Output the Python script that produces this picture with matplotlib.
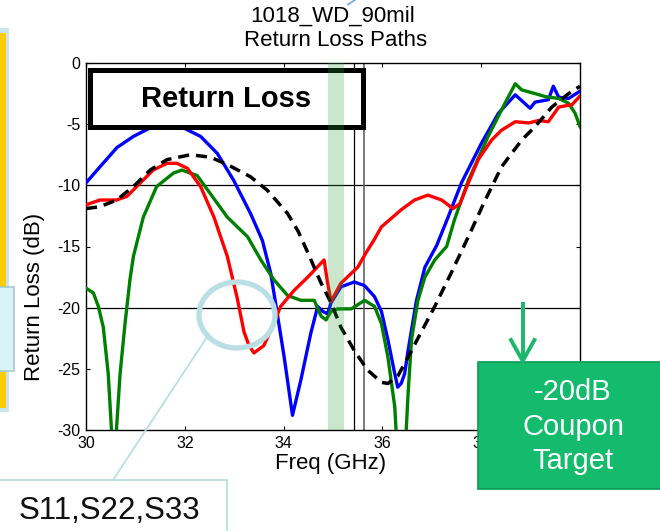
import matplotlib
matplotlib.use('Agg')
import matplotlib.pyplot as plt
from matplotlib.patches import Rectangle, Ellipse

plt.rcParams['font.family'] = ['Liberation Sans', 'DejaVu Sans']

# ---------------- data ----------------
blue_f = [30.0, 30.28, 30.63, 30.96, 31.3, 31.6, 31.97, 32.32, 32.66, 32.99, 33.33, 33.57,
          33.74, 33.88, 34.01, 34.18, 34.35, 34.55, 34.69, 34.79, 34.89, 34.96, 35.16, 35.43,
          35.64, 35.84, 35.98, 36.11, 36.25, 36.31, 36.38, 36.45, 36.52, 36.69, 36.86, 37.1,
          37.33, 37.6, 38.0, 38.35, 38.69, 38.99, 39.09, 39.36, 39.46, 39.57, 39.77, 40.0]
blue_rl = [-9.8, -8.5, -6.9, -6.0, -5.3, -4.9, -5.3, -6.0, -7.4, -9.6, -12.3, -14.5,
           -17.2, -20.7, -24.0, -28.8, -25.9, -22.1, -19.9, -20.3, -20.5, -19.6, -18.3, -17.9,
           -18.2, -19.1, -20.3, -22.6, -25.4, -26.5, -26.2, -25.4, -23.5, -19.4, -16.7, -14.9,
           -12.6, -9.8, -6.6, -4.1, -2.6, -3.7, -3.2, -3.0, -1.9, -2.8, -2.9, -2.3]

green_f = [30.0, 30.15, 30.25, 30.35, 30.45, 30.53, 30.6, 30.69, 30.79, 30.89, 30.96, 31.16,
           31.43, 31.77, 31.94, 32.25, 32.52, 32.86, 33.27, 33.54, 33.8, 34.08, 34.35, 34.62,
           34.76, 34.86, 34.96, 35.1, 35.37, 35.64, 35.84, 35.98, 36.11, 36.25, 36.29, 36.47,
           36.52, 36.59, 36.72, 36.86, 37.06, 37.3, 37.46, 37.74, 38.14, 38.48, 38.69, 38.82,
           39.09, 39.3, 39.57, 39.77, 39.9, 40.0]
green_rl = [-18.4, -18.8, -19.9, -21.6, -25.4, -31.0, -31.0, -25.4, -21.3, -17.7, -15.8, -12.6,
            -10.1, -9.0, -8.75, -9.2, -10.7, -12.6, -14.2, -16.1, -17.7, -19.0, -19.4, -19.4,
            -20.7, -21.0, -20.3, -20.1, -20.1, -19.4, -19.9, -21.3, -24.0, -28.1, -31.0, -31.0,
            -27.0, -22.6, -19.4, -17.5, -16.1, -15.0, -12.8, -9.6, -6.0, -3.3, -1.7, -2.2,
            -2.5, -2.75, -2.9, -3.3, -4.1, -5.2]

red_f = [30.0, 30.28, 30.62, 30.83, 31.1, 31.36, 31.64, 31.84, 32.05, 32.32, 32.59, 32.86,
         33.06, 33.2, 33.3, 33.4, 33.6, 33.8, 33.94, 34.21, 34.49, 34.82, 34.88, 34.96,
         35.16, 35.5, 35.67, 35.84, 35.98, 36.38, 36.65, 36.92, 37.2, 37.43, 37.57, 37.74,
         37.94, 38.21, 38.41, 38.69, 38.96, 39.16, 39.36, 39.57, 39.84, 40.0]
red_rl = [-11.6, -11.2, -11.2, -10.9, -9.8, -8.75, -8.2, -8.2, -8.6, -10.1, -12.6, -15.8,
          -19.2, -22.0, -23.1, -23.7, -23.1, -21.3, -19.9, -18.6, -17.5, -16.1, -17.7, -19.5,
          -18.0, -16.7, -15.5, -14.4, -13.4, -12.0, -11.2, -10.8, -11.2, -11.9, -11.5, -9.8,
          -7.9, -6.3, -5.5, -4.8, -4.9, -4.7, -4.8, -3.6, -3.4, -2.7]

target_f = [30.0, 30.28, 30.62, 30.96, 31.3, 31.64, 32.11, 32.52, 32.86, 33.33, 33.67, 34.08,
            34.3, 34.49, 34.76, 34.96, 35.16, 35.43, 35.7, 35.98, 36.11, 36.31, 36.5, 36.72,
            37.06, 37.4, 37.74, 38.07, 38.41, 38.82, 39.09, 39.43, 39.77, 40.0]
target_rl = [-11.9, -11.75, -11.2, -10.1, -8.75, -7.9, -7.5, -7.7, -8.3, -9.3, -10.4, -12.3,
             -13.8, -15.5, -18.0, -19.6, -21.6, -23.5, -25.1, -26.1, -26.2, -25.6, -24.2, -22.5,
             -19.9, -17.1, -14.2, -11.3, -8.5, -6.3, -5.2, -3.6, -2.5, -1.9]

x_ticks = [30, 32, 34, 36, 38, 40]
x_tick_labels = ['30', '32', '34', '36', '38', '']   # 40 is hidden by the target box
y_ticks = [-30, -25, -20, -15, -10, -5, 0]
y_tick_labels = ['-30', '-25', '-20', '-15', '-10', '-5', '0']
ref_lines_db = [-10, -20]
marker_lines_ghz = [35.42, 35.62]
band_ghz = [34.9, 35.22]

title_lines = ['1018_WD_90mil', 'Return Loss Paths']
box_label = 'Return Loss'
x_label = 'Freq (GHz)'
y_label = 'Return Loss (dB)'
callout_label = 'S11,S22,S33'
target_lines = ['-20dB', 'Coupon', 'Target']

# ---------------- figure ----------------
W, H = 660, 531
fig = plt.figure(figsize=(6.6, 5.31), dpi=100)
fig.patch.set_facecolor('white')

ax = fig.add_axes([86 / W, 1 - 430 / H, (580 - 86) / W, (430 - 63) / H])
ax.set_xlim(30, 40)
ax.set_ylim(-30, 0)

for y in ref_lines_db:
    ax.axhline(y, color='black', lw=0.9, zorder=1)
ax.axvline(marker_lines_ghz[0], color='black', lw=0.9, zorder=1)
ax.axvline(marker_lines_ghz[1], color='#555555', lw=1.1, zorder=1)

ax.plot(blue_f, blue_rl, color='#0000ff', lw=2.4, zorder=3)
ax.plot(green_f, green_rl, color='#008000', lw=2.4, zorder=3)
ax.plot(red_f, red_rl, color='#ff0000', lw=2.4, zorder=3)
ax.plot(target_f, target_rl, color='black', lw=2.5, ls=(0, (3.2, 2.0)), zorder=4)

# "Return Loss" boxed label
ax.add_patch(Rectangle((30.08, -5.23), 5.53, 4.66, fc='white', ec='black', lw=3.6, zorder=5))
ax.text(32.83, -2.95, box_label, ha='center', va='center', fontsize=21,
        fontweight='bold', zorder=5.5)

ax.axvspan(band_ghz[0], band_ghz[1], color='#2e9e3a', alpha=0.25, lw=0, zorder=6)

ax.set_xticks(x_ticks)
ax.set_xticklabels(x_tick_labels)
ax.set_yticks(y_ticks)
ax.set_yticklabels(y_tick_labels)
ax.tick_params(direction='in', top=True, right=True, length=3, width=0.8,
               labelsize=11.5, pad=4, colors='black')
for s in ax.spines.values():
    s.set_linewidth(1.0)

# ---------------- overlay in pixel coordinates ----------------
ov = fig.add_axes([0, 0, 1, 1], zorder=10)
ov.set_xlim(0, W)
ov.set_ylim(H, 0)
ov.axis('off')

# title and axis labels
ov.text(333, 16, title_lines[0], ha='center', va='center', fontsize=16)
ov.text(336, 40, title_lines[1], ha='center', va='center', fontsize=16)
ov.plot([355, 348], [0, 4.5], color='#6aaed6', lw=1.2)
ov.text(331, 463, x_label, ha='center', va='center', fontsize=16)
ov.text(35, 297, y_label, ha='center', va='center', rotation=90, fontsize=16)

# left slide panel
ov.add_patch(Rectangle((-10, 28), 19, 384, fc='#c8e6eb', ec='none'))
ov.add_patch(Rectangle((-10, 33), 15.7, 375, fc='#ffcc00', ec='none'))
ov.add_patch(Rectangle((-10, 287), 23.5, 84, fc='#d8f4f6', ec='#a6cbd0', lw=1.2))

# ellipse + callout
light = '#b9dfe4'
ov.add_patch(Ellipse((237, 315), 76, 66, fill=False, ec=light, lw=3.8))
ov.plot([209, 113], [334, 480], color=light, lw=1.3)
ov.add_patch(Rectangle((-5, 480), 232, 60, fc='white', ec=light, lw=1.3))
ov.text(109, 511, callout_label, ha='center', va='center', fontsize=22.5, color='#111111')

# green target box + arrow
gcol = '#14bb6c'
ov.add_patch(Rectangle((478, 362), 200, 127, fc=gcol, ec='#0c9a56', lw=1.2))
ov.plot([522.7, 522.7], [302, 359], color='#1bb86b', lw=2.8, solid_capstyle='butt')
ov.plot([511, 522.7, 534.4], [340, 361, 340], color='#1bb86b', lw=2.8)
for txt, yy in zip(target_lines, [392, 427, 461]):
    ov.text(573, yy, txt, ha='center', va='center', fontsize=21, color='white')

fig.savefig('out.png', dpi=100)
